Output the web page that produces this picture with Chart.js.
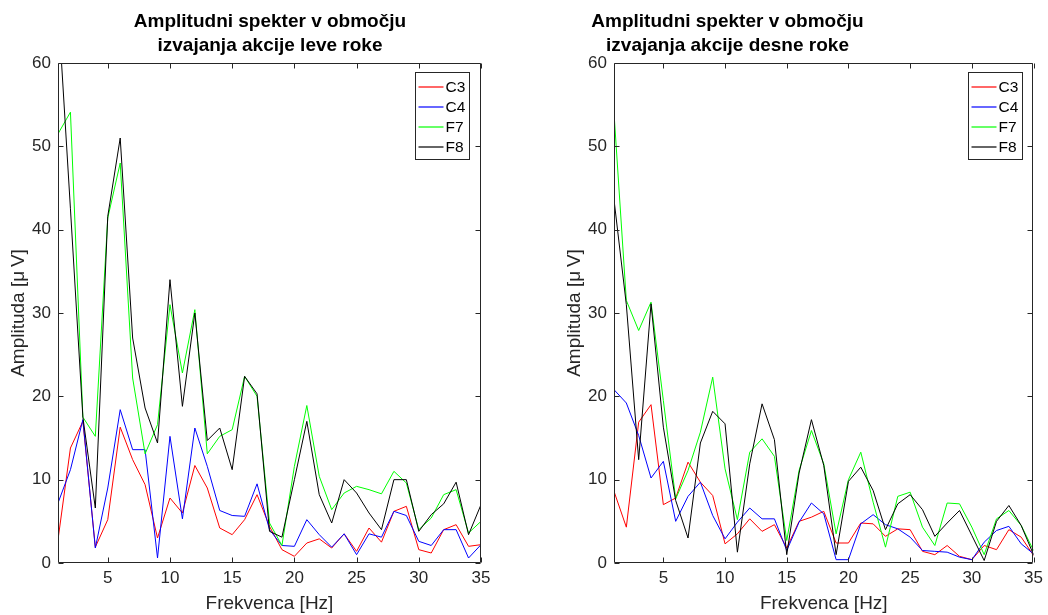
<!DOCTYPE html>
<html>
<head>
<meta charset="utf-8">
<script src="https://cdn.jsdelivr.net/npm/chart.js@4.4.1/dist/chart.umd.min.js"></script>
<style>
  html, body { margin: 0; padding: 0; background: #fff; overflow: hidden; }
  #wrap { position: relative; width: 1048px; height: 615px; }
  canvas { position: absolute; top: 0; }
</style>
</head>
<body>
<div id="wrap">
  <canvas id="leftHand" width="524" height="615" style="left:0"></canvas>
  <canvas id="rightHand" width="524" height="615" style="left:524px"></canvas>
</div>
<script>
// frequency bins (Hz) and axis ticks
const freq = [1, 2, 3, 4, 5, 6, 7, 8, 9, 10, 11, 12, 13, 14, 15, 16, 17, 18,
              19, 20, 21, 22, 23, 24, 25, 26, 27, 28, 29, 30, 31, 32, 33, 34, 35];
const xTicks = [5, 10, 15, 20, 25, 30, 35];
const yTicks = [0, 10, 20, 30, 40, 50, 60];

const channels = ['C3', 'C4', 'F7', 'F8'];
const channelColors = ['#ff0000', '#0000ff', '#00ff00', '#000000'];

// left hand action window
const leftC3 = [2.8, 13.8, 17.0, 1.9, 5.2, 16.3, 12.4, 9.4, 3.0, 7.8, 6.0, 11.7, 9.0, 4.2, 3.4, 5.2, 8.2, 4.4,
                1.6, 0.8, 2.4, 2.9, 1.8, 3.5, 1.4, 4.2, 2.5, 6.2, 6.8, 1.6, 1.2, 4.0, 4.6, 2.0, 2.2];
const leftC4 = [7.2, 11.2, 17.2, 1.8, 9.0, 18.4, 13.6, 13.6, 0.6, 15.2, 5.3, 16.2, 11.6, 6.3, 5.7, 5.6, 9.5, 4.0,
                2.1, 2.0, 5.2, 3.4, 1.9, 3.5, 1.0, 3.5, 3.1, 6.2, 5.7, 2.6, 2.1, 4.0, 4.0, 0.6, 2.2];
const leftF7 = [51.5, 54.1, 17.5, 15.2, 41.4, 48.0, 22.2, 13.1, 16.6, 31.0, 22.8, 30.4, 13.1, 15.2, 16.0, 22.4, 20.0, 4.8,
                2.1, 11.6, 18.9, 10.4, 6.4, 8.4, 9.2, 8.8, 8.3, 11.0, 9.6, 4.0, 5.4, 8.2, 8.8, 3.6, 5.0];
const leftF8 = [67.0, 42.5, 17.5, 6.6, 41.6, 51.0, 27.0, 18.6, 14.4, 34.0, 18.8, 30.0, 14.7, 16.2, 11.2, 22.4, 20.3, 3.8,
                3.1, 10.0, 17.0, 8.2, 4.8, 10.0, 8.4, 6.0, 4.0, 10.0, 10.0, 3.8, 5.8, 7.1, 9.7, 3.4, 7.0];

// right hand action window
const rightC3 = [8.6, 4.3, 16.9, 19.0, 7.0, 7.8, 12.1, 9.7, 8.1, 2.3, 3.5, 5.3, 3.8, 4.6, 1.8, 5.0, 5.5, 6.2,
                 2.4, 2.4, 4.8, 4.7, 3.2, 4.1, 4.0, 1.4, 1.0, 2.1, 0.8, 0.4, 2.1, 1.6, 4.0, 3.1, 0.9];
const rightC4 = [20.8, 19.2, 15.3, 10.2, 12.2, 5.0, 8.0, 9.7, 5.7, 2.9, 4.9, 6.6, 5.3, 5.3, 1.5, 4.9, 7.2, 5.9,
                 0.4, 0.4, 4.7, 5.8, 4.6, 4.1, 3.1, 1.5, 1.4, 1.3, 0.7, 0.4, 2.5, 3.9, 4.4, 2.3, 1.1];
const rightF7 = [54.0, 31.5, 27.9, 31.3, 19.5, 7.7, 11.1, 15.7, 22.3, 11.3, 5.2, 13.3, 14.9, 12.8, 2.7, 11.1, 15.9, 11.9,
                 3.5, 10.0, 13.3, 7.3, 1.9, 8.0, 8.5, 4.3, 2.1, 7.2, 7.1, 4.3, 1.0, 5.3, 6.3, 4.5, 1.5];
const rightF8 = [43.6, 31.0, 12.4, 31.1, 16.3, 7.5, 3.0, 14.4, 18.2, 16.7, 1.3, 11.9, 19.1, 14.8, 1.0, 10.8, 17.2, 11.7,
                 1.0, 9.8, 11.5, 8.7, 4.0, 7.1, 8.2, 6.4, 3.2, 4.8, 6.3, 3.3, 0.3, 5.0, 6.9, 4.5, 1.0];

const AXIS = '#262626';
const FONT = '"Liberation Sans", Arial, Helvetica, sans-serif';

// box, inward ticks, legend and two-line title
const axesDecor = {
  id: 'axesDecor',
  afterDatasetsDraw(chart, args, opts) {
    const { ctx, chartArea: a, scales: { x, y } } = chart;
    const L = Math.floor(a.left) + 0.5, R = Math.floor(a.right) - 0.5;
    const T = Math.floor(a.top) + 0.5, B = Math.floor(a.bottom) - 0.5;
    ctx.save();
    ctx.strokeStyle = AXIS;
    ctx.lineWidth = 1;
    ctx.beginPath();
    ctx.rect(L, T, R - L, B - T);
    x.ticks.forEach(t => {
      const px = Math.round(x.getPixelForValue(t.value)) + 0.5;
      ctx.moveTo(px, B); ctx.lineTo(px, B - 5);
      ctx.moveTo(px, T); ctx.lineTo(px, T + 5);
    });
    y.ticks.forEach(t => {
      const py = Math.round(y.getPixelForValue(t.value)) + 0.5;
      ctx.moveTo(L, py); ctx.lineTo(L + 5, py);
      ctx.moveTo(R, py); ctx.lineTo(R - 5, py);
    });
    ctx.stroke();

    // legend
    const bw = 54, bh = 87;
    const bx = Math.round(a.right - 12 - bw) + 0.5, by = Math.round(a.top + 9) + 0.5;
    ctx.fillStyle = '#fff';
    ctx.fillRect(bx, by, bw, bh);
    ctx.strokeStyle = AXIS;
    ctx.strokeRect(bx, by, bw, bh);
    ctx.font = '15.5px ' + FONT;
    ctx.textBaseline = 'middle';
    ctx.textAlign = 'left';
    channels.forEach((name, i) => {
      const ly = Math.round(by + 14 + i * 20.2);
      ctx.beginPath();
      ctx.lineWidth = 1.2;
      ctx.strokeStyle = channelColors[i];
      ctx.moveTo(bx + 3, ly);
      ctx.lineTo(bx + 28, ly);
      ctx.stroke();
      ctx.fillStyle = '#000';
      ctx.fillText(name, bx + 30, ly + 1);
    });

    // title
    ctx.fillStyle = '#000';
    ctx.font = 'bold 19px ' + FONT;
    ctx.textAlign = 'center';
    ctx.textBaseline = 'alphabetic';
    opts.lines.forEach((line, i) => ctx.fillText(line, opts.center, 27 + i * 24));
    ctx.restore();
  }
};

function spectrumChart(id, titleLines, series, frame) {
  const datasets = series.map((vals, i) => ({
    label: channels[i],
    data: freq.map((f, k) => ({ x: f, y: vals[k] })),
    borderColor: channelColors[i],
    borderWidth: 1,
    pointRadius: 0,
    tension: 0,
    fill: false,
    order: channels.length - i
  }));
  const tickFont = { family: FONT, size: 17 };
  const labelFont = { family: FONT, size: 19 };
  return new Chart(document.getElementById(id), {
    type: 'line',
    data: { datasets },
    options: {
      responsive: false,
      animation: false,
      events: [],
      layout: { padding: { top: 63, right: 524 - frame.right, bottom: 0, left: 0 } },
      plugins: {
        legend: { display: false },
        tooltip: { enabled: false },
        axesDecor: { lines: titleLines, center: frame.titleCenter }
      },
      scales: {
        x: {
          type: 'linear',
          min: 1,
          max: 35,
          afterBuildTicks: s => { s.ticks = xTicks.map(v => ({ value: v })); },
          afterFit: s => { s.height = 52; },
          grid: { display: false, drawTicks: false },
          border: { display: false },
          ticks: { color: AXIS, font: tickFont, padding: 5, maxRotation: 0, autoSkip: false },
          title: { display: true, text: 'Frekvenca [Hz]', color: AXIS, font: labelFont, padding: { top: 0, bottom: 0 } }
        },
        y: {
          type: 'linear',
          min: 0,
          max: 60,
          afterBuildTicks: s => { s.ticks = yTicks.map(v => ({ value: v })); },
          afterFit: s => { s.width = frame.left; },
          grid: { display: false, drawTicks: false },
          border: { display: false },
          ticks: { color: AXIS, font: tickFont, padding: 7 },
          title: { display: true, text: 'Amplituda [\u03bc\u2009V]', color: AXIS, font: labelFont, padding: { top: frame.yTitle - 11.4, bottom: 0 } }
        }
      }
    },
    plugins: [axesDecor]
  });
}

spectrumChart('leftHand', ['Amplitudni spekter v območju', 'izvajanja akcije leve roke'],
  [leftC3, leftC4, leftF7, leftF8], { left: 58, right: 481, titleCenter: 270, yTitle: 19 });
spectrumChart('rightHand', ['Amplitudni spekter v območju', 'izvajanja akcije desne roke'],
  [rightC3, rightC4, rightF7, rightF8], { left: 90, right: 513, titleCenter: 203.5, yTitle: 51 });
</script>
</body>
</html>
